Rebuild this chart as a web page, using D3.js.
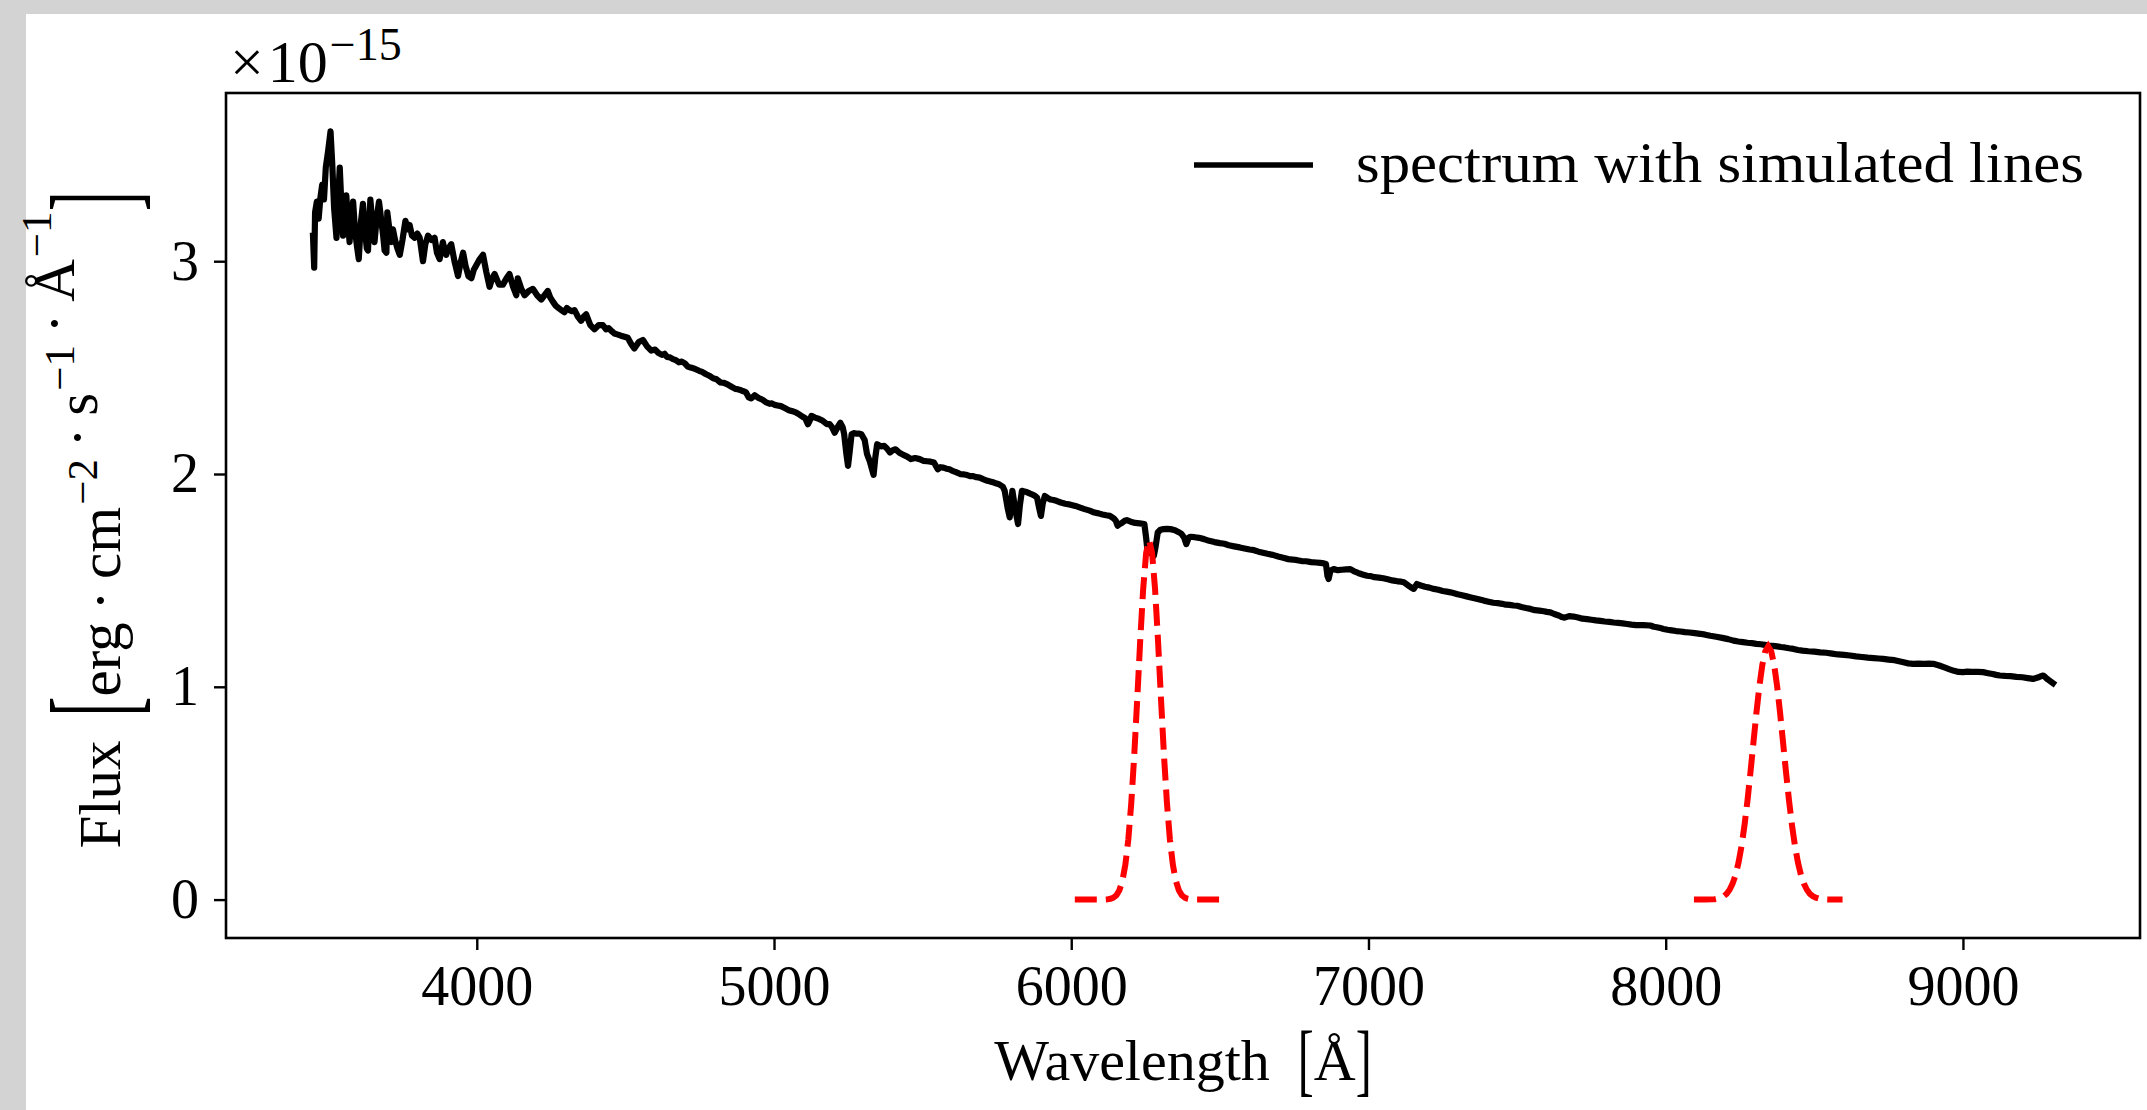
<!DOCTYPE html>
<html>
<head>
<meta charset="utf-8">
<script src="https://cdn.jsdelivr.net/npm/d3@7/dist/d3.min.js"></script>
<style>
  html, body { margin: 0; padding: 0; background: #d3d3d3; }
  svg { display: block; }
</style>
</head>
<body>
<svg id="chart" width="2147" height="1110"></svg>
<script>
// Spectrum (wavelength in Angstrom, flux in units of 1e-15 erg/cm2/s/A)
const spectrumWave = [
  3449, 3453, 3456, 3462, 3468, 3474, 3480, 3486, 3492, 3500,
  3508, 3514, 3520, 3528, 3534, 3539, 3545, 3550, 3556, 3561,
  3567, 3572, 3578, 3584, 3590, 3597, 3603, 3610, 3617, 3624,
  3630, 3634, 3642, 3649, 3656, 3663, 3671, 3678, 3685, 3690,
  3696, 3699, 3706, 3713, 3718, 3725, 3733, 3741, 3750, 3760,
  3767, 3774, 3782, 3791, 3800, 3808, 3814, 3819, 3827, 3836,
  3847, 3858, 3866, 3875, 3886, 3892, 3897, 3905, 3914, 3925,
  3937, 3945, 3954, 3962, 3972, 3982, 3990, 3998, 4010, 4021,
  4032, 4043, 4052, 4060, 4075, 4088, 4100, 4110, 4122, 4133,
  4138, 4150, 4161, 4175, 4189, 4203, 4217, 4228, 4239, 4247,
  4256, 4266, 4275, 4285, 4295, 4303, 4312, 4320, 4329, 4340,
  4351, 4360, 4368, 4382, 4396, 4410, 4424, 4435, 4444, 4455,
  4463, 4475, 4485, 4497, 4508, 4520, 4530, 4545, 4559, 4573,
  4587, 4600, 4610, 4623, 4632, 4640, 4650, 4660, 4670, 4680,
  4690, 4700, 4710, 4720, 4733, 4748, 4758, 4770, 4782, 4795,
  4807, 4820, 4832, 4845, 4857, 4870, 4878, 4886, 4895, 4905,
  4915, 4923, 4935, 4947, 4960, 4972, 4985, 4993, 5002, 5012,
  5023, 5036, 5050, 5062, 5075, 5085, 5095, 5105, 5114, 5120,
  5126, 5138, 5150, 5164, 5178, 5187, 5195, 5204, 5214, 5223,
  5231, 5236, 5243, 5249, 5255, 5261, 5268, 5275, 5285, 5294,
  5305, 5313, 5322, 5330, 5335, 5341, 5347, 5360, 5371, 5380,
  5390, 5400, 5409, 5422, 5435, 5448, 5461, 5475, 5490, 5502,
  5515, 5527, 5538, 5551, 5560, 5570, 5580, 5590, 5600, 5610,
  5620, 5628, 5640, 5650, 5660, 5670, 5681, 5692, 5705, 5718,
  5730, 5740, 5749, 5757, 5770, 5776, 5786, 5793, 5798, 5802,
  5812, 5821, 5827, 5834, 5842, 5850, 5858, 5866, 5875, 5885,
  5892, 5898, 5904, 5911, 5920, 5930, 5940, 5950, 5965, 5980,
  5997, 6014, 6030, 6045, 6062, 6078, 6092, 6105, 6118, 6130,
  6144, 6150, 6156, 6163, 6170, 6180, 6187, 6200, 6215, 6230,
  6246, 6252, 6256, 6266, 6278, 6284, 6291, 6300, 6310, 6322,
  6334, 6349, 6360, 6370, 6380, 6387, 6395, 6400, 6415, 6430,
  6447, 6464, 6482, 6500, 6515, 6530, 6548, 6567, 6583, 6600,
  6615, 6630, 6645, 6660, 6678, 6696, 6713, 6730, 6745, 6760,
  6775, 6790, 6807, 6824, 6838, 6850, 6857, 6862, 6866, 6872,
  6883, 6897, 6910, 6925, 6939, 6952, 6965, 6980, 6995, 7008,
  7020, 7035, 7050, 7065, 7080, 7090, 7100, 7110, 7119, 7135,
  7145, 7152, 7163, 7176, 7190, 7205, 7220, 7235, 7250, 7263,
  7276, 7288, 7300, 7315, 7330, 7345, 7360, 7374, 7388, 7404,
  7420, 7435, 7450, 7462, 7475, 7488, 7500, 7515, 7530, 7545,
  7560, 7575, 7590, 7600, 7612, 7625, 7640, 7650, 7660, 7675,
  7690, 7705, 7720, 7735, 7750, 7765, 7780, 7795, 7810, 7825,
  7840, 7855, 7870, 7885, 7900, 7925, 7948, 7960, 7970, 7982,
  7993, 8006, 8020, 8035, 8050, 8065, 8080, 8098, 8116, 8133,
  8150, 8170, 8190, 8210, 8228, 8244, 8260, 8275, 8290, 8305,
  8320, 8333, 8346, 8360, 8375, 8388, 8400, 8415, 8430, 8445,
  8460, 8480, 8500, 8520, 8540, 8560, 8580, 8600, 8620, 8640,
  8660, 8680, 8700, 8716, 8732, 8750, 8770, 8785, 8800, 8816,
  8833, 8850, 8870, 8885, 8900, 8920, 8940, 8955, 8970, 8985,
  9001, 9015, 9030, 9050, 9068, 9085, 9100, 9112, 9124, 9142,
  9160, 9180, 9200, 9218, 9236, 9246, 9255, 9263, 9270, 9278,
  9285, 9294, 9303
];
const spectrumFlux = [
  3.12, 2.97, 3.23, 3.28, 3.20, 3.30, 3.36, 3.29, 3.44, 3.52,
  3.61, 3.45, 3.25, 3.11, 3.30, 3.44, 3.25, 3.12, 3.22, 3.31,
  3.18, 3.09, 3.20, 3.28, 3.15, 3.07, 3.01, 3.18, 3.27, 3.14,
  3.06, 3.05, 3.29, 3.17, 3.09, 3.20, 3.28, 3.20, 3.12, 3.05,
  3.04, 3.23, 3.15, 3.09, 3.15, 3.10, 3.06, 3.03, 3.10, 3.19,
  3.15, 3.17, 3.12, 3.11, 3.13, 3.11, 3.05, 3.00, 3.08, 3.12,
  3.10, 3.11, 3.04, 3.01, 3.09, 3.05, 3.03, 3.06, 3.08, 3.00,
  2.93, 2.99, 3.04, 2.98, 2.93, 2.92, 2.96, 2.98, 3.01, 3.03,
  2.95, 2.88, 2.92, 2.94, 2.89, 2.89, 2.92, 2.94, 2.88, 2.84,
  2.92, 2.87, 2.84, 2.86, 2.87, 2.84, 2.82, 2.84, 2.86, 2.83,
  2.81, 2.79, 2.78, 2.77, 2.76, 2.78, 2.77, 2.765, 2.77, 2.74,
  2.72, 2.74, 2.75, 2.70, 2.68, 2.70, 2.70, 2.68, 2.685, 2.67,
  2.66, 2.655, 2.65, 2.645, 2.64, 2.61, 2.59, 2.62, 2.63, 2.60,
  2.58, 2.585, 2.57, 2.56, 2.565, 2.55, 2.548, 2.54, 2.535, 2.525,
  2.528, 2.52, 2.505, 2.50, 2.495, 2.485, 2.48, 2.47, 2.462, 2.45,
  2.445, 2.43, 2.428, 2.42, 2.41, 2.40, 2.398, 2.395, 2.39, 2.385,
  2.36, 2.355, 2.37, 2.358, 2.35, 2.338, 2.33, 2.332, 2.325, 2.322,
  2.319, 2.31, 2.30, 2.295, 2.288, 2.28, 2.27, 2.262, 2.234, 2.25,
  2.273, 2.265, 2.26, 2.25, 2.234, 2.235, 2.22, 2.194, 2.22, 2.241,
  2.22, 2.187, 2.10, 2.038, 2.11, 2.187, 2.192, 2.19, 2.19, 2.187,
  2.16, 2.093, 2.061, 2.02, 1.996, 2.08, 2.140, 2.13, 2.132, 2.12,
  2.101, 2.112, 2.116, 2.10, 2.09, 2.082, 2.07, 2.075, 2.07, 2.062,
  2.06, 2.058, 2.054, 2.022, 2.032, 2.03, 2.025, 2.022, 2.015, 2.01,
  2.004, 1.999, 1.998, 1.995, 1.99, 1.99, 1.985, 1.983, 1.975, 1.968,
  1.964, 1.96, 1.955, 1.952, 1.94, 1.921, 1.84, 1.796, 1.86, 1.921,
  1.83, 1.765, 1.85, 1.921, 1.918, 1.915, 1.91, 1.905, 1.90, 1.889,
  1.84, 1.803, 1.86, 1.897, 1.888, 1.88, 1.878, 1.874, 1.866, 1.86,
  1.856, 1.850, 1.842, 1.835, 1.828, 1.819, 1.815, 1.81, 1.806, 1.803,
  1.79, 1.78, 1.757, 1.765, 1.77, 1.78, 1.783, 1.776, 1.77, 1.768,
  1.765, 1.70, 1.647, 1.63, 1.616, 1.66, 1.725, 1.738, 1.741, 1.742,
  1.741, 1.736, 1.728, 1.72, 1.70, 1.671, 1.70, 1.705, 1.703, 1.70,
  1.694, 1.686, 1.68, 1.675, 1.672, 1.665, 1.66, 1.655, 1.65, 1.645,
  1.642, 1.635, 1.63, 1.625, 1.62, 1.612, 1.606, 1.60, 1.598, 1.595,
  1.591, 1.59, 1.586, 1.584, 1.582, 1.58, 1.577, 1.52, 1.507, 1.545,
  1.553, 1.548, 1.55, 1.552, 1.553, 1.542, 1.535, 1.528, 1.522, 1.52,
  1.515, 1.513, 1.51, 1.505, 1.50, 1.498, 1.495, 1.494, 1.491, 1.475,
  1.465, 1.46, 1.483, 1.476, 1.47, 1.466, 1.46, 1.456, 1.45, 1.447,
  1.444, 1.44, 1.435, 1.43, 1.425, 1.42, 1.415, 1.41, 1.405, 1.40,
  1.395, 1.393, 1.39, 1.386, 1.385, 1.382, 1.381, 1.375, 1.37, 1.366,
  1.36, 1.358, 1.355, 1.352, 1.350, 1.342, 1.335, 1.328, 1.325, 1.332,
  1.33, 1.326, 1.32, 1.318, 1.315, 1.312, 1.31, 1.307, 1.305, 1.302,
  1.30, 1.298, 1.295, 1.292, 1.29, 1.29, 1.288, 1.282, 1.28, 1.276,
  1.272, 1.268, 1.265, 1.262, 1.26, 1.257, 1.255, 1.252, 1.249, 1.245,
  1.24, 1.235, 1.23, 1.224, 1.217, 1.213, 1.21, 1.207, 1.205, 1.202,
  1.20, 1.197, 1.194, 1.192, 1.19, 1.187, 1.185, 1.181, 1.178, 1.173,
  1.17, 1.167, 1.165, 1.162, 1.16, 1.156, 1.152, 1.15, 1.147, 1.143,
  1.14, 1.137, 1.135, 1.133, 1.131, 1.128, 1.125, 1.12, 1.115, 1.11,
  1.108, 1.109, 1.108, 1.109, 1.108, 1.10, 1.09, 1.082, 1.075, 1.07,
  1.069, 1.071, 1.07, 1.07, 1.069, 1.064, 1.06, 1.056, 1.053, 1.051,
  1.05, 1.047, 1.045, 1.041, 1.037, 1.041, 1.045, 1.05, 1.053, 1.044,
  1.035, 1.026, 1.017
];

// Simulated lines (red dashed)
const line1Wave = [6012, 6052, 6092, 6112, 6122, 6132, 6142, 6152, 6162, 6172, 6182, 6192, 6202, 6212, 6222, 6232, 6242, 6252, 6262,
  6272, 6282, 6292, 6302, 6312, 6322, 6332, 6342, 6352, 6362, 6372, 6382, 6392, 6402, 6412, 6432, 6472, 6512];
const line1Flux = [0, 0, 0, 0, 0.001, 0.004, 0.009, 0.020, 0.044, 0.088, 0.163, 0.282, 0.454, 0.678, 0.942, 1.216, 1.460, 1.629, 1.690,
  1.629, 1.460, 1.216, 0.942, 0.678, 0.454, 0.282, 0.163, 0.088, 0.044, 0.020, 0.009, 0.004, 0.001, 0, 0, 0, 0];
const line2Wave = [8095, 8135, 8155, 8165, 8175, 8185, 8195, 8205, 8215, 8225, 8235, 8245, 8255, 8265, 8275, 8285, 8295, 8305, 8315,
  8325, 8335, 8345, 8355, 8365, 8375, 8385, 8395, 8405, 8415, 8425, 8435, 8445, 8455, 8465, 8475, 8485, 8495, 8505, 8515,
  8525, 8535, 8555, 8595];
const line2Flux = [0, 0, 0.001, 0.002, 0.005, 0.009, 0.016, 0.027, 0.046, 0.075, 0.116, 0.174, 0.251, 0.348, 0.464, 0.596, 0.736, 0.875, 1.001,
  1.102, 1.167, 1.190, 1.167, 1.102, 1.001, 0.875, 0.736, 0.596, 0.464, 0.348, 0.251, 0.174, 0.116, 0.075, 0.046, 0.027, 0.016, 0.009, 0.005,
  0.002, 0.001, 0, 0];

const xTicks = [4000, 5000, 6000, 7000, 8000, 9000];
const yTicks = [0, 1, 2, 3];
const legendLabel = 'spectrum with simulated lines';

const W = 2147, H = 1110;
const margin = { top: 93, right: 7, bottom: 172, left: 226 };
const fontFamily = '"Liberation Serif", "Times New Roman", serif';
const fontSize = 56;

const svg = d3.select('#chart');

// figure background (white card over grey page)
svg.append('rect')
  .attr('x', 26).attr('y', 14)
  .attr('width', W - 26).attr('height', H - 14)
  .attr('fill', '#ffffff');

// scales with matplotlib-like 5% margins
const allX = spectrumWave.concat(line1Wave, line2Wave);
const allY = spectrumFlux.concat(line1Flux, line2Flux);
const [x0, x1] = d3.extent(allX);
const [y0, y1] = d3.extent(allY);
const px = (x1 - x0) * 0.05, py = (y1 - y0) * 0.05;

const x = d3.scaleLinear()
  .domain([x0 - px, x1 + px])
  .range([margin.left, W - margin.right]);

const y = d3.scaleLinear()
  .domain([y0 - py, y1 + py])
  .range([H - margin.bottom, margin.top]);

const plotW = W - margin.left - margin.right;
const plotH = H - margin.top - margin.bottom;

svg.append('clipPath').attr('id', 'plot-clip')
  .append('rect')
  .attr('x', margin.left).attr('y', margin.top)
  .attr('width', plotW).attr('height', plotH);

const line = d3.line()
  .x(d => x(d[0]))
  .y(d => y(d[1]));

const plot = svg.append('g').attr('clip-path', 'url(#plot-clip)');

plot.append('path')
  .datum(d3.zip(spectrumWave, spectrumFlux))
  .attr('fill', 'none')
  .attr('stroke', '#000')
  .attr('stroke-width', 6.2)
  .attr('stroke-linejoin', 'round')
  .attr('stroke-linecap', 'square')
  .attr('d', line);

[[line1Wave, line1Flux], [line2Wave, line2Flux]].forEach(([wv, fx]) => {
  plot.append('path')
    .datum(d3.zip(wv, fx))
    .attr('fill', 'none')
    .attr('stroke', '#ff0000')
    .attr('stroke-width', 6)
    .attr('stroke-dasharray', '22 9')
    .attr('d', line);
});

// Axes
const xAxis = svg.append('g')
  .attr('transform', `translate(0,${H - margin.bottom})`)
  .call(d3.axisBottom(x).tickValues(xTicks).tickSize(12).tickPadding(15).tickSizeOuter(0).tickFormat(d3.format('d')))
  .call(g => g.select('.domain').remove());

const yAxis = svg.append('g')
  .attr('transform', `translate(${margin.left},0)`)
  .call(d3.axisLeft(y).tickValues(yTicks).tickSize(12).tickPadding(15).tickSizeOuter(0).tickFormat(d3.format('d')))
  .call(g => g.select('.domain').remove());

[xAxis, yAxis].forEach(a => {
  a.attr('font-family', fontFamily).attr('font-size', fontSize);
  a.selectAll('line').attr('stroke', '#000').attr('stroke-width', 2.4);
  a.selectAll('text').attr('fill', '#000');
});

// frame
svg.append('rect')
  .attr('x', margin.left).attr('y', margin.top)
  .attr('width', plotW).attr('height', plotH)
  .attr('fill', 'none')
  .attr('stroke', '#000')
  .attr('stroke-width', 2.6);

// offset text  x10^-15
const offset = svg.append('text')
  .attr('x', 230).attr('y', 82)
  .attr('font-family', fontFamily)
  .attr('font-size', 60);
offset.append('tspan').text('×');
offset.append('tspan').attr('dx', 4).text('10');
offset.append('tspan').attr('dx', 2).attr('dy', -22).attr('font-size', 46).text('−15');

// Legend
const lg = svg.append('g');
lg.append('line')
  .attr('x1', 1194).attr('x2', 1313)
  .attr('y1', 165).attr('y2', 165)
  .attr('stroke', '#000').attr('stroke-width', 5.5);
lg.append('text')
  .attr('x', 1356).attr('y', 182)
  .attr('font-family', fontFamily)
  .attr('font-size', fontSize)
  .attr('textLength', 728)
  .attr('lengthAdjust', 'spacingAndGlyphs')
  .text(legendLabel);

// label with stretched LaTeX-like brackets
function mathLabel(parent, parts, size, supSize, supRise) {
  const g = parent.append('g')
    .attr('font-family', fontFamily)
    .attr('font-size', size);
  let cursor = 0;
  parts.forEach(p => {
    if (p.gap) { cursor += p.gap; return; }
    if (p.bracket) {
      const t = g.append('text')
        .attr('font-size', p.size)
        .attr('transform', `translate(${cursor},${p.dy}) scale(${p.sx},1)`)
        .text(p.bracket);
      cursor += t.node().getComputedTextLength() * p.sx;
      return;
    }
    const t = g.append('text').attr('x', cursor);
    p.runs.forEach(r => {
      if (r.sup) {
        t.append('tspan').attr('dx', 2).attr('dy', -supRise).attr('font-size', supSize).text(r.sup);
        t.append('tspan').attr('dy', supRise).text('');
      } else {
        t.append('tspan').text(r.t);
      }
    });
    cursor += t.node().getComputedTextLength();
  });
  return { g, width: cursor };
}

// x label
const xl = mathLabel(svg, [
  { runs: [{ t: 'Wavelength' }] },
  { gap: 28 },
  { bracket: '[', size: 80, sx: 0.6, dy: 6 },
  { runs: [{ t: 'Å' }] },
  { bracket: ']', size: 80, sx: 0.6, dy: 6 }
], 58, 42, 22);
xl.g.attr('transform', `translate(${margin.left + plotW / 2 - xl.width / 2},1080)`);

// y label
const yl = mathLabel(svg, [
  { runs: [{ t: 'Flux' }] },
  { gap: 24 },
  { bracket: '[', size: 120, sx: 0.5, dy: 14 },
  { runs: [{ t: 'erg\u2009·\u2009cm' }, { sup: '−2' }, { t: '\u2009·\u2009s' }, { sup: '−1' }, { t: '\u2009·\u2009Å' }, { sup: '−1' }] },
  { gap: 6 },
  { bracket: ']', size: 120, sx: 0.5, dy: 14 }
], 59, 43, 23);
yl.g.attr('transform', `translate(120,${520 + yl.width / 2}) rotate(-90)`);
</script>
</body>
</html>
